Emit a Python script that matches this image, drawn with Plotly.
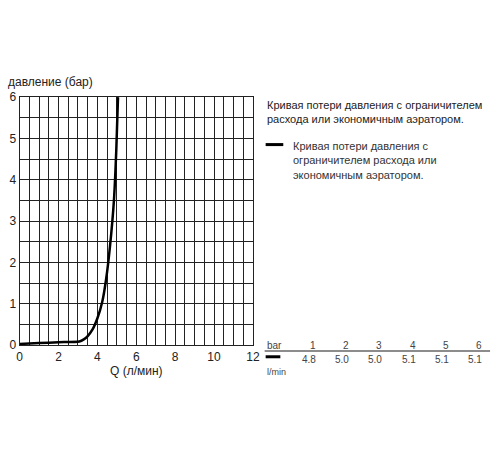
import plotly.graph_objects as go

# pressure-loss curve
flow_lpm = [0.0, 1.0, 2.0, 3.07, 3.3, 3.5, 3.75, 4.0, 4.25, 4.45, 4.65, 4.85, 4.97, 5.06]
pressure_bar = [0.03, 0.05, 0.07, 0.09, 0.14, 0.22, 0.38, 0.65, 1.05, 1.6, 2.4, 3.5, 4.7, 6.0]

# little table at the bottom right
table_bar = [1, 2, 3, 4, 5, 6]
table_lpm = ["4.8", "5.0", "5.0", "5.1", "5.1", "5.1"]

note_text = "Кривая потери давления с ограничителем<br>расхода или экономичным аэратором."
legend_text = "Кривая потери давления с<br>ограничителем расхода или<br>экономичным аэратором."

W, H = 500, 450
FONT = "Liberation Sans, Arial, sans-serif"


def px(x):
    return x / W


def py(y):
    return 1 - y / H


fig = go.Figure()

fig.add_trace(go.Scatter(
    x=flow_lpm,
    y=pressure_bar,
    mode="lines",
    line=dict(color="black", width=2.5, shape="spline", smoothing=0.6),
    name="Кривая потери давления",
    showlegend=False,
))

grid = "#222222"
fig.update_xaxes(
    domain=[px(17), px(255)],
    range=[0, 12],
    dtick=2,
    showgrid=True, gridcolor=grid, gridwidth=1,
    minor=dict(dtick=0.5, showgrid=True, gridcolor=grid, gridwidth=1),
    zeroline=False,
    showline=True, linecolor=grid, linewidth=1, mirror=True,
    tickfont=dict(size=12, color="#222"),
    title=dict(text="Q (л/мин)", font=dict(size=12, color="#222"), standoff=2),
)
fig.update_yaxes(
    domain=[py(349), py(93)],
    range=[0, 6],
    dtick=1,
    showgrid=True, gridcolor=grid, gridwidth=1,
    minor=dict(dtick=0.5, showgrid=True, gridcolor=grid, gridwidth=1),
    zeroline=False,
    showline=True, linecolor=grid, linewidth=1, mirror=True,
    tickfont=dict(size=12, color="#222"),
)

ann = []
# y axis title at the top-left
ann.append(dict(x=px(3), y=py(77), xref="paper", yref="paper", xanchor="left",
                yanchor="middle", text="давление (бар)", showarrow=False,
                font=dict(size=12, color="#222")))
# note + manual legend
ann.append(dict(x=px(267), y=py(93), xref="paper", yref="paper", xanchor="left",
                yanchor="top", align="left", text=note_text, showarrow=False,
                font=dict(size=11, color="#222")))
ann.append(dict(x=px(294), y=py(135), xref="paper", yref="paper", xanchor="left",
                yanchor="top", align="left", text=legend_text, showarrow=False,
                font=dict(size=11, color="#333")))

# table
col_right = [321 + 34 * i for i in range(6)]
ann.append(dict(x=px(267), y=py(349), xref="paper", yref="paper", xanchor="left",
                yanchor="middle", text="bar", showarrow=False,
                font=dict(size=10, color="#444")))
ann.append(dict(x=px(267), y=py(377), xref="paper", yref="paper", xanchor="left",
                yanchor="middle", text="l/min", showarrow=False,
                font=dict(size=9, color="#444")))
for xr, b, q in zip(col_right, table_bar, table_lpm):
    ann.append(dict(x=px(xr), y=py(349), xref="paper", yref="paper", xanchor="right",
                    yanchor="middle", text=str(b), showarrow=False,
                    font=dict(size=10, color="#444")))
    ann.append(dict(x=px(xr), y=py(364), xref="paper", yref="paper", xanchor="right",
                    yanchor="middle", text=q, showarrow=False,
                    font=dict(size=10, color="#444")))

shapes = [
    # legend dash
    dict(type="line", xref="paper", yref="paper", x0=px(268), x1=px(286),
         y0=py(142), y1=py(142), line=dict(color="black", width=3)),
    # table rule
    dict(type="line", xref="paper", yref="paper", x0=px(267), x1=px(497),
         y0=py(355), y1=py(355), line=dict(color="#666", width=1.5)),
    # table dash
    dict(type="line", xref="paper", yref="paper", x0=px(268), x1=px(283),
         y0=py(361), y1=py(361), line=dict(color="black", width=3)),
]

fig.update_layout(
    width=W, height=H,
    margin=dict(l=0, r=0, t=0, b=0),
    paper_bgcolor="white",
    plot_bgcolor="white",
    font=dict(family=FONT, color="#222"),
    annotations=ann,
    shapes=shapes,
    showlegend=False,
)

# the page should be exactly the 500x450 figure: no body margin, no scrollbars
page_js = (
    "document.body.style.margin='0px';"
    "document.body.style.overflow='hidden';"
    "document.documentElement.style.overflow='hidden';"
)
fig.write_html("out.html", config={"displayModeBar": False}, post_script=page_js)
